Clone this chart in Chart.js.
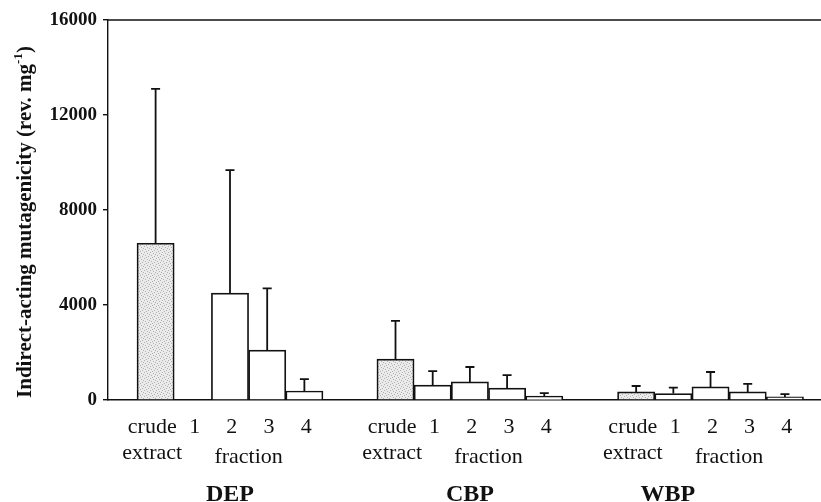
<!DOCTYPE html>
<html>
<head>
<meta charset="utf-8">
<script src="https://cdn.jsdelivr.net/npm/chart.js@4.4.1/dist/chart.umd.min.js"></script>
<style>
  html, body { margin: 0; padding: 0; background: #fff; }
  #wrap { width: 821px; height: 502px; position: relative; }
</style>
</head>
<body>
<div id="wrap"><canvas id="chart"></canvas></div>
<script>
// particle types and the samples tested for each
const groups = ['DEP', 'CBP', 'WBP'];
const samples = ['crude extract', '1', '2', '3', '4'];

// mean mutagenicity (rev. mg-1) per sample, and standard deviation
const depMean = [6600, 0, 4500, 2100, 380];
const depSd = [6500, 0, 5180, 2600, 500];
const cbpMean = [1720, 630, 760, 500, 170];
const cbpSd = [1610, 590, 630, 550, 120];
const wbpMean = [340, 270, 550, 340, 130];
const wbpSd = [250, 250, 630, 340, 120];

const yTicks = [0, 4000, 8000, 12000, 16000];

const means = [depMean, cbpMean, wbpMean];
const sds = [depSd, cbpSd, wbpSd];

const SERIF = '"Liberation Serif", "Times New Roman", serif';
const INK = '#111';
const groupStart = [0, 6.45, 12.92]; // x offset of each group on the linear axis

// stippled grey fill for crude extracts
function stipple() {
  const c = document.createElement('canvas');
  c.width = 6; c.height = 6;
  const g = c.getContext('2d');
  g.fillStyle = '#ebebeb';
  g.fillRect(0, 0, 6, 6);
  g.fillStyle = '#b0b0b0';
  [[0, 0], [3, 1], [1, 3], [4, 4], [5, 2], [2, 5]].forEach(([x, y]) => g.fillRect(x, y, 1, 1));
  return g.createPattern(c, 'repeat');
}
const crudeFill = stipple();

const points = [];
const fills = [];
const errs = [];
groups.forEach((grp, gi) => {
  samples.forEach((s, si) => {
    points.push({ x: groupStart[gi] + si, y: means[gi][si] });
    fills.push(si === 0 ? crudeFill : '#ffffff');
    errs.push(sds[gi][si]);
  });
});

// upper error bars, frame top line, axis title and sample labels
const extras = {
  id: 'extras',
  afterDatasetsDraw(chart) {
    const { ctx, chartArea, scales: { x, y } } = chart;
    ctx.save();
    ctx.strokeStyle = INK;
    ctx.lineWidth = 1.8;
    points.forEach((p, i) => {
      if (!errs[i]) return;
      const px = x.getPixelForValue(p.x);
      const y0 = y.getPixelForValue(p.y);
      const y1 = y.getPixelForValue(p.y + errs[i]);
      ctx.beginPath();
      ctx.moveTo(px, y0); ctx.lineTo(px, y1);
      ctx.moveTo(px - 4.5, y1); ctx.lineTo(px + 4.5, y1);
      ctx.stroke();
    });

    ctx.lineWidth = 1.4;
    ctx.beginPath();
    ctx.moveTo(chartArea.left, chartArea.top);
    ctx.lineTo(chartArea.right, chartArea.top);
    ctx.stroke();

    // y title with superscript
    ctx.fillStyle = INK;
    ctx.translate(26, 222);
    ctx.rotate(-Math.PI / 2);
    const main = 'Indirect-acting mutagenicity (rev. mg';
    ctx.font = 'bold 21px ' + SERIF;
    const w1 = ctx.measureText(main).width;
    ctx.font = 'bold 13px ' + SERIF;
    const w2 = ctx.measureText('-1').width;
    ctx.font = 'bold 21px ' + SERIF;
    const w3 = ctx.measureText(')').width;
    let tx = -(w1 + w2 + w3) / 2;
    ctx.textBaseline = 'middle';
    ctx.textAlign = 'left';
    ctx.fillText(main, tx, 0);
    tx += w1;
    ctx.font = 'bold 13px ' + SERIF;
    ctx.fillText('-1', tx, -7);
    tx += w2;
    ctx.font = 'bold 21px ' + SERIF;
    ctx.fillText(')', tx, 0);
    ctx.restore();

    // sample and group labels under the axis
    ctx.save();
    ctx.fillStyle = INK;
    ctx.textAlign = 'center';
    ctx.textBaseline = 'alphabetic';
    const groupLabelAt = [2, 2.0, 0.85];
    groups.forEach((grp, gi) => {
      const g0 = groupStart[gi];
      ctx.font = '22px ' + SERIF;
      samples.forEach((s, si) => {
        if (si === 0) {
          const [a, b] = s.split(' ');
          const px = x.getPixelForValue(g0 - 0.09);
          ctx.fillText(a, px, 433);
          ctx.fillText(b, px, 459);
        } else {
          ctx.fillText(s, x.getPixelForValue(g0 + si + 0.05), 433);
        }
      });
      ctx.fillText('fraction', x.getPixelForValue(g0 + 2.5), 463);
      ctx.font = 'bold 24px ' + SERIF;
      ctx.fillText(grp, x.getPixelForValue(g0 + groupLabelAt[gi]), 501);
    });
    ctx.restore();
  }
};

new Chart(document.getElementById('chart'), {
  type: 'bar',
  data: {
    datasets: [{
      data: points,
      backgroundColor: fills,
      borderColor: INK,
      borderWidth: 1.7,
      borderSkipped: 'bottom',
      barPercentage: 1,
      categoryPercentage: 1
    }]
  },
  options: {
    responsive: true,
    maintainAspectRatio: false,
    animation: false,
    layout: { padding: { top: 20, right: 0, left: 0, bottom: 0 } },
    plugins: { legend: { display: false }, tooltip: { enabled: false } },
    scales: {
      x: {
        type: 'linear',
        offset: false,
        min: -1.28,
        max: 17.89,
        ticks: { display: false, stepSize: 1, includeBounds: false },
        grid: { display: true, offset: false, drawOnChartArea: false, drawTicks: false },
        border: { display: true, color: INK, width: 1.4 },
        afterFit: (s) => { s.height = 102; }
      },
      y: {
        min: 0,
        max: 16000,
        afterBuildTicks: (s) => { s.ticks = yTicks.map(v => ({ value: v })); },
        ticks: {
          color: INK,
          padding: 6,
          font: { family: SERIF, size: 19, weight: 'bold' },
          callback: (v) => String(v)
        },
        grid: { drawOnChartArea: false, drawTicks: true, tickLength: 5, color: INK, lineWidth: 1.4 },
        border: { display: true, color: INK, width: 1.4 },
        afterFit: (s) => { s.width = 108; }
      }
    }
  },
  plugins: [extras]
});
</script>
</body>
</html>
